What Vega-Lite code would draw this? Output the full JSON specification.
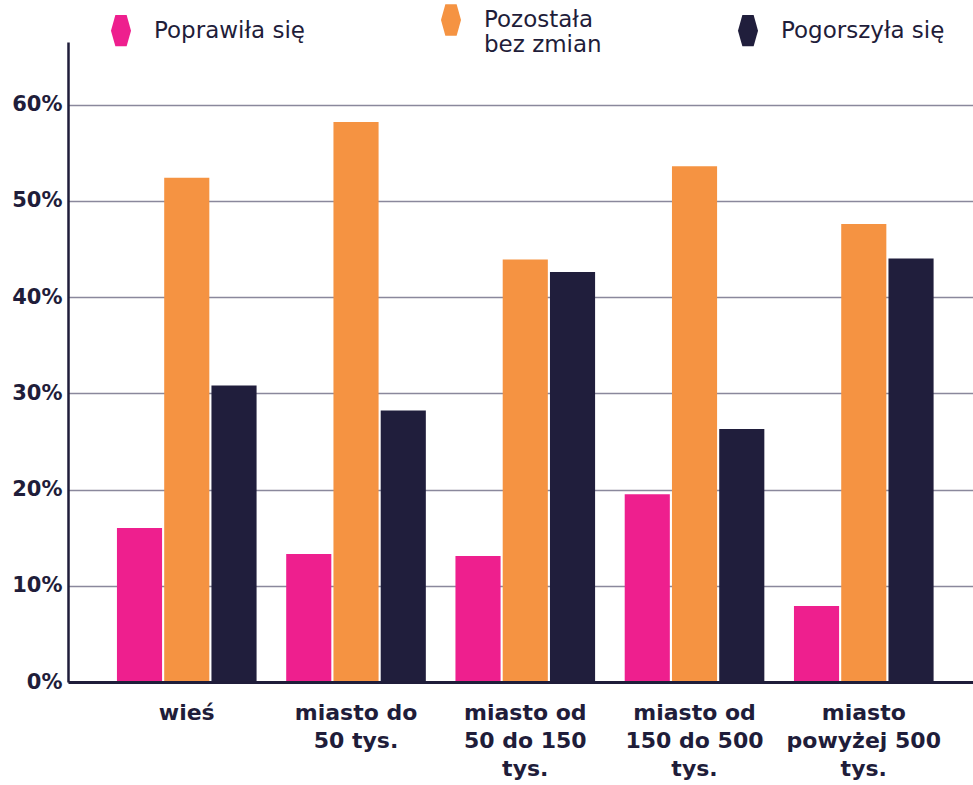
{
  "$schema": "https://vega.github.io/schema/vega-lite/v6.json",
  "width": 905,
  "height": 640,
  "autosize": "none",
  "padding": {"left": 68, "top": 42, "right": 0, "bottom": 103},
  "background": "white",
  "config": {
    "view": {"stroke": null},
    "font": "DejaVu Sans"
  },
  "data": {
    "values": [
      {"kategoria": "wieś", "ocena": "Poprawiła się", "wartosc": 0.160},
      {"kategoria": "wieś", "ocena": "Pozostała bez zmian", "wartosc": 0.524},
      {"kategoria": "wieś", "ocena": "Pogorszyła się", "wartosc": 0.308},
      {"kategoria": "miasto do 50 tys.", "ocena": "Poprawiła się", "wartosc": 0.133},
      {"kategoria": "miasto do 50 tys.", "ocena": "Pozostała bez zmian", "wartosc": 0.582},
      {"kategoria": "miasto do 50 tys.", "ocena": "Pogorszyła się", "wartosc": 0.282},
      {"kategoria": "miasto od 50 do 150 tys.", "ocena": "Poprawiła się", "wartosc": 0.131},
      {"kategoria": "miasto od 50 do 150 tys.", "ocena": "Pozostała bez zmian", "wartosc": 0.439},
      {"kategoria": "miasto od 50 do 150 tys.", "ocena": "Pogorszyła się", "wartosc": 0.426},
      {"kategoria": "miasto od 150 do 500 tys.", "ocena": "Poprawiła się", "wartosc": 0.195},
      {"kategoria": "miasto od 150 do 500 tys.", "ocena": "Pozostała bez zmian", "wartosc": 0.536},
      {"kategoria": "miasto od 150 do 500 tys.", "ocena": "Pogorszyła się", "wartosc": 0.263},
      {"kategoria": "miasto powyżej 500 tys.", "ocena": "Poprawiła się", "wartosc": 0.079},
      {"kategoria": "miasto powyżej 500 tys.", "ocena": "Pozostała bez zmian", "wartosc": 0.476},
      {"kategoria": "miasto powyżej 500 tys.", "ocena": "Pogorszyła się", "wartosc": 0.440}
    ]
  },
  "mark": {"type": "bar"},
  "encoding": {
    "x": {
      "field": "kategoria",
      "type": "nominal",
      "sort": null,
      "scale": {"paddingInner": 0.175, "paddingOuter": 0.261, "align": 0.554},
      "axis": {
        "title": null,
        "labelAngle": 0,
        "ticks": false,
        "domainColor": "#1f1d3a",
        "domainWidth": 3,
        "zindex": 1,
        "labelFont": "DejaVu Sans",
        "labelFontSize": 22,
        "labelFontWeight": "bold",
        "labelColor": "#1f1d3a",
        "labelPadding": 20,
        "labelLineHeight": 28,
        "labelLimit": 200,
        "labelExpr": "datum.value == 'miasto do 50 tys.' ? ['miasto do', '50 tys.'] : datum.value == 'miasto od 50 do 150 tys.' ? ['miasto od', '50 do 150', 'tys.'] : datum.value == 'miasto od 150 do 500 tys.' ? ['miasto od', '150 do 500', 'tys.'] : datum.value == 'miasto powyżej 500 tys.' ? ['miasto', 'powyżej 500', 'tys.'] : datum.value"
      }
    },
    "xOffset": {
      "field": "ocena",
      "type": "nominal",
      "sort": ["Poprawiła się", "Pozostała bez zmian", "Pogorszyła się"],
      "scale": {"paddingInner": 0.045}
    },
    "y": {
      "field": "wartosc",
      "type": "quantitative",
      "scale": {"domain": [0, 0.665], "nice": false},
      "axis": {
        "title": null,
        "format": ".0%",
        "values": [0, 0.1, 0.2, 0.3, 0.4, 0.5, 0.6],
        "ticks": false,
        "domainColor": "#1f1d3a",
        "domainWidth": 2.5,
        "gridColor": "#8a889c",
        "gridWidth": 1.5,
        "labelFont": "DejaVu Sans",
        "labelFontSize": 21,
        "labelFontWeight": "bold",
        "labelColor": "#1f1d3a",
        "labelPadding": 6
      }
    },
    "color": {
      "field": "ocena",
      "type": "nominal",
      "sort": ["Poprawiła się", "Pozostała bez zmian", "Pogorszyła się"],
      "scale": {
        "domain": ["Poprawiła się", "Pozostała bez zmian", "Pogorszyła się"],
        "range": ["#ee1f8e", "#f59342", "#201e3c"]
      },
      "legend": {
        "title": null,
        "orient": "none",
        "legendX": 37,
        "legendY": -38,
        "direction": "horizontal",
        "symbolType": "M-0.64,0L-0.36,-1L0.36,-1L0.64,0L0.36,1L-0.36,1Z",
        "symbolSize": 980,
        "symbolStrokeWidth": 0,
        "symbolOpacity": 1,
        "labelFont": "DejaVu Sans",
        "labelFontSize": 23,
        "labelColor": "#1f1d3a",
        "labelOffset": 17,
        "labelLineHeight": 27,
        "labelLimit": 300,
        "columnPadding": 130,
        "labelExpr": "datum.label == 'Pozostała bez zmian' ? ['Pozostała', 'bez zmian'] : datum.label"
      }
    }
  }
}
